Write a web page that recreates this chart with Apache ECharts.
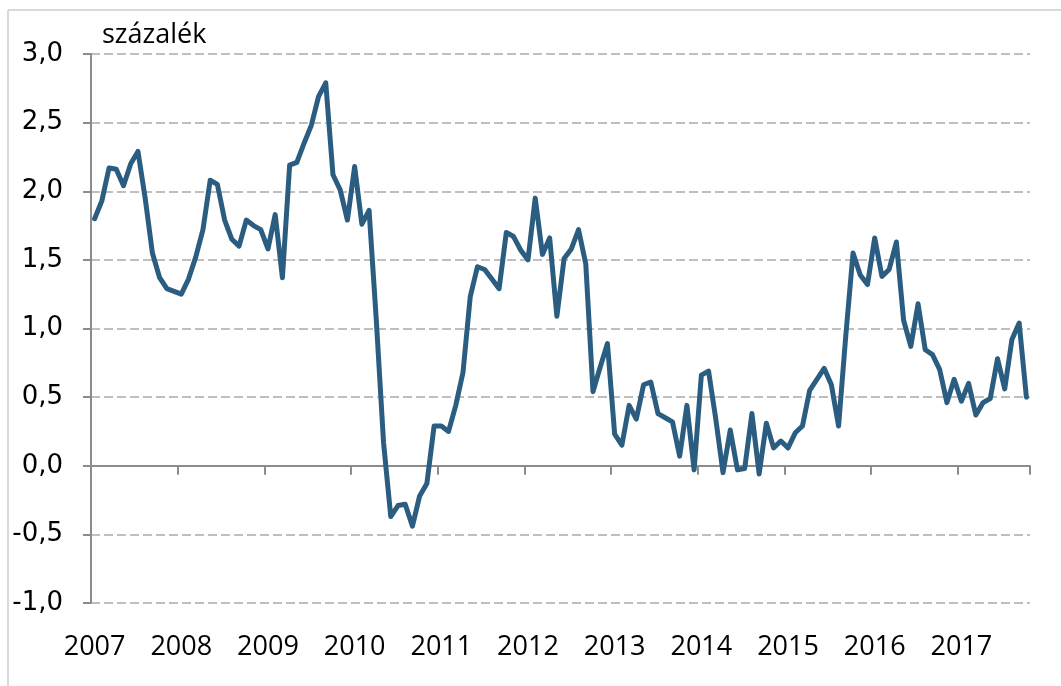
<!DOCTYPE html>
<html>
<head>
<meta charset="utf-8">
<script src="https://cdn.jsdelivr.net/npm/echarts@6/dist/echarts.min.js"></script>
<style>
html,body{margin:0;padding:0;background:#fff;}
#chart{width:1061px;height:686px;}
</style>
</head>
<body>
<div id="chart"></div>
<script>
// Monthly series, Jan 2007 - Oct 2017 (százalék)
const years = ['2007','2008','2009','2010','2011','2012','2013','2014','2015','2016','2017'];
const values2007 = [1.80,1.93,2.17,2.16,2.04,2.20,2.29,1.95,1.55,1.37,1.29,1.27];
const values2008 = [1.25,1.36,1.52,1.72,2.08,2.05,1.79,1.65,1.60,1.79,1.75,1.72];
const values2009 = [1.58,1.83,1.37,2.19,2.21,2.35,2.48,2.69,2.79,2.12,2.01,1.79];
const values2010 = [2.18,1.76,1.86,1.06,0.17,-0.37,-0.29,-0.28,-0.44,-0.22,-0.13,0.29];
const values2011 = [0.29,0.25,0.44,0.68,1.23,1.45,1.43,1.36,1.29,1.70,1.67,1.57];
const values2012 = [1.50,1.95,1.54,1.66,1.09,1.51,1.58,1.72,1.47,0.54,0.72,0.89];
const values2013 = [0.23,0.15,0.44,0.34,0.59,0.61,0.38,0.35,0.32,0.07,0.44,-0.03];
const values2014 = [0.66,0.69,0.34,-0.05,0.26,-0.03,-0.02,0.38,-0.06,0.31,0.13,0.18];
const values2015 = [0.13,0.24,0.29,0.55,0.63,0.71,0.59,0.29,0.95,1.55,1.39,1.32];
const values2016 = [1.66,1.38,1.43,1.63,1.06,0.87,1.18,0.845,0.81,0.70,0.46,0.63];
const values2017 = [0.47,0.60,0.37,0.46,0.49,0.78,0.56,0.92,1.04,0.50];
const yTicks = [-1.0,-0.5,0.0,0.5,1.0,1.5,2.0,2.5,3.0];
const unitLabel = 'százalék';

const yearValues = [values2007,values2008,values2009,values2010,values2011,values2012,values2013,values2014,values2015,values2016,values2017];
const categories = [];
const values = [];
yearValues.forEach((arr, yi) => {
  arr.forEach((v, m) => {
    categories.push(years[yi] + '-' + String(m + 1).padStart(2, '0'));
    values.push(v);
  });
});

const chart = echarts.init(document.getElementById('chart'), null, {renderer: 'canvas'});
const axisGray = '#8c8c8c';
chart.setOption({
  animation: false,
  backgroundColor: '#ffffff',
  grid: {left: 91, right: 31, top: 54, bottom: 83, containLabel: false, outerBoundsMode: 'none'},
  graphic: [
    {type: 'line', shape: {x1: 8, y1: 10, x2: 1061, y2: 10}, style: {stroke: '#d9d9d9', lineWidth: 2}},
    {type: 'line', shape: {x1: 8, y1: 10, x2: 8, y2: 686}, style: {stroke: '#d9d9d9', lineWidth: 2}},
    {type: 'text', left: 102, top: 22, style: {text: unitLabel, font: '27px "Open Sans"', fill: '#000000'}}
  ],
  xAxis: [
    {
      type: 'category', data: categories, boundaryGap: true,
      axisLine: {show: true, onZero: true, lineStyle: {color: axisGray, width: 2}},
      axisTick: {show: true, interval: 11, length: 9, inside: false, lineStyle: {color: axisGray, width: 2}},
      axisLabel: {show: false},
      splitLine: {show: false}
    },
    {
      type: 'category', data: categories, boundaryGap: true, position: 'bottom',
      axisLine: {show: false, onZero: false},
      axisTick: {show: false},
      axisLabel: {
        show: true, interval: 11, margin: 31,
        fontFamily: 'Open Sans', fontSize: 27, color: '#000000',
        formatter: (v) => v.slice(0, 4)
      },
      splitLine: {show: false}
    }
  ],
  yAxis: {
    type: 'value', min: yTicks[0], max: yTicks[yTicks.length - 1], interval: 0.5,
    axisLine: {show: true, lineStyle: {color: axisGray, width: 2}},
    axisTick: {show: true, length: 8, lineStyle: {color: axisGray, width: 2}},
    axisLabel: {
      margin: 28, fontFamily: 'DejaVu Sans', fontSize: 26, color: '#000000',
      formatter: (v) => v.toFixed(1).replace('.', ',')
    },
    splitLine: {show: true, lineStyle: {color: '#bfbfbf', width: 2, type: [9, 4]}}
  },
  series: [{
    type: 'line', xAxisIndex: 0, data: values, showSymbol: false, symbol: 'none',
    lineStyle: {color: '#2b5d80', width: 5, cap: 'round', join: 'round'},
    itemStyle: {color: '#2b5d80'}
  }]
});
</script>
</body>
</html>
